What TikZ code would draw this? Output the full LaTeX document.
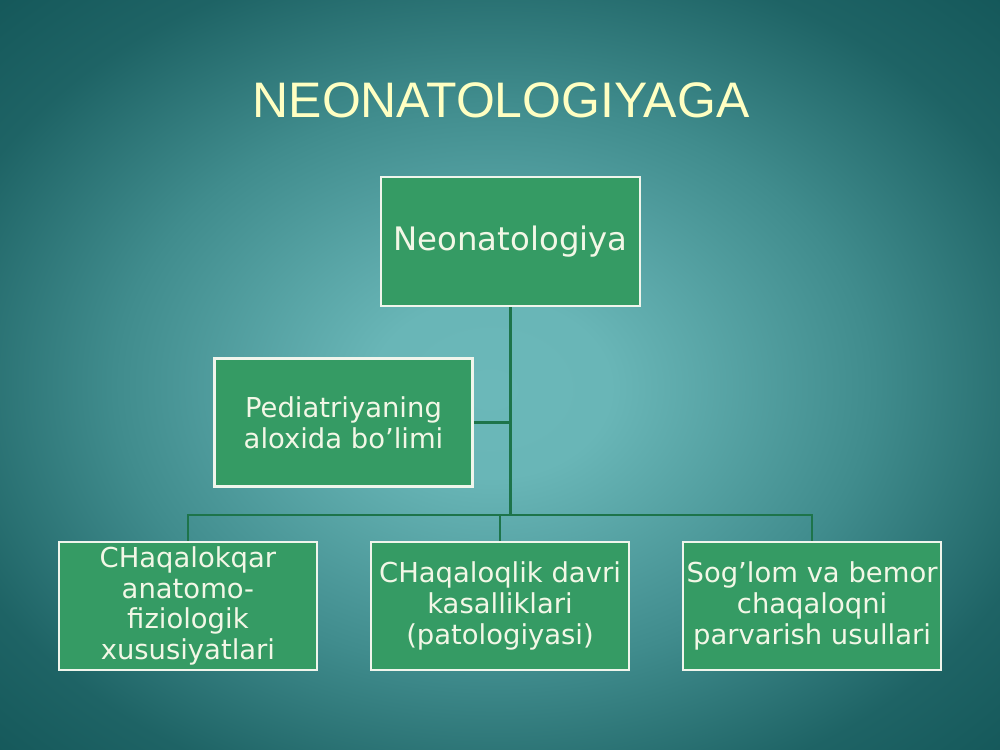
\documentclass[tikz,border=0pt]{standalone}
\usepackage{fontspec}
\setmainfont{DejaVu Sans}
\newfontfamily\headfont{Liberation Sans}
\usetikzlibrary{positioning,shapes}
\definecolor{bglight}{HTML}{6BB8B9}
\definecolor{bgmid}{HTML}{408C8D}
\definecolor{bgdark}{HTML}{135658}
\definecolor{boxfill}{HTML}{359B64}
\definecolor{boxedge}{HTML}{F0F5EC}
\definecolor{boxtext}{HTML}{F2F7E6}
\definecolor{linkcol}{HTML}{1D744A}
\definecolor{headcol}{HTML}{FFFFC2}
\pgfdeclareradialshading{bgshade}{\pgfpoint{-0.5bp}{-1bp}}{color(0bp)=(bglight); color(6bp)=(bglight!95!bgmid); color(19bp)=(bgmid); color(29bp)=(bgdark!75!bgmid); color(37bp)=(bgdark); color(50bp)=(bgdark)}
\newlength{\lw}
\setlength{\lw}{1.8pt}
\tikzstyle{every picture}+=[x=0.025cm,y=0.025cm]
\tikzstyle{every picture}+=[join=miter]
\tikzstyle{box}+=[draw=boxedge, fill=boxfill, line width=\lw]
\tikzstyle{box}+=[minimum width=6.45cm, minimum height=3.2cm, inner sep=0pt]
\tikzstyle{box}+=[text=boxtext, align=center]
\tikzstyle{box}+=[font=\fontsize{19.5}{21.8}\selectfont]
\tikzstyle{bigbox}=[box, minimum width=6.475cm, minimum height=3.225cm]
\tikzstyle{bigbox}+=[font=\fontsize{23}{26}\selectfont]
\tikzstyle{head}=[text=headcol, font=\headfont\fontsize{35.5}{40}\selectfont]
\tikzstyle{link}=[draw=linkcol, line width=2pt]

\begin{document}
\begin{tikzpicture}
\shade[shading=bgshade] (0,0) rectangle (1000,750);
\useasboundingbox (0,0) rectangle (1000,750);

\node[head] (title) at (501,650) {NEONATOLOGIYAGA};

\node[bigbox] (neo) at (510.5,508.5) {Neonatologiya};
\node[box] (ped) at (343.5,327.5) {Pediatriyaning\\aloxida bo’limi};

\node[box] (mid) at (500,144) {CHaqaloqlik davri\\kasalliklari\\(patologiyasi)};
\node[box] (left) [left of=mid, node distance=7.8cm] {CHaqalokqar\\anatomo-\\fiziologik\\xususiyatlari};
\node[box] (right) [right of=mid, node distance=7.8cm] {Sog’lom va bemor\\chaqaloqni\\parvarish usullari};

\coordinate (bus) at (0,235);

\draw[link] (neo.south) -- (neo.south |- bus);
\draw[link] (ped.east) -- (ped.east -| neo.south);
\draw[link] (left.north) -- (left.north |- bus) -- (right.north |- bus) -- (right.north);
\draw[link] (mid.north) -- (mid.north |- bus);
\end{tikzpicture}
\end{document}
